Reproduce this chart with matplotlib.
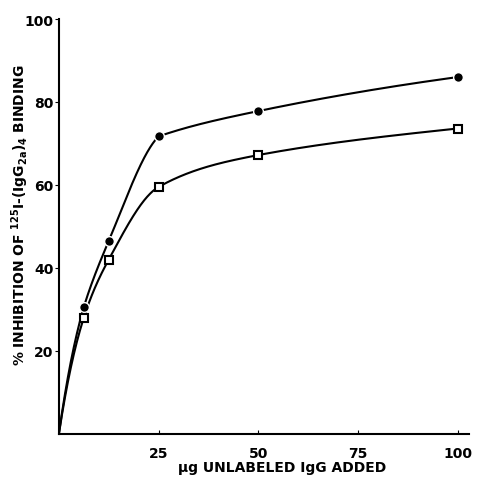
import matplotlib
matplotlib.use("Agg")
import matplotlib.pyplot as plt
import numpy as np

# data
dose = [6.25, 12.5, 25, 50, 100]
filled = [30.6, 46.5, 71.7, 77.8, 86.0]
opened = [28.0, 42.0, 59.5, 67.2, 73.6]


def smooth(x, y, xs):
    # hermite curve through the points; pieces kept roughly concave like the drawn curve
    x = np.asarray(x, float)
    y = np.asarray(y, float)
    h = np.diff(x)
    d = np.diff(y) / h
    m = np.zeros_like(y)
    for k in range(1, len(x) - 1):
        w1 = 2 * h[k] + h[k - 1]
        w2 = h[k] + 2 * h[k - 1]
        m[k] = (w1 + w2) / (w1 / d[k - 1] + w2 / d[k])
    m[0] = d[0] * 1.4
    m[-1] = d[-1] * 0.8
    m0 = m[:-1].copy()
    m1 = m[1:].copy()
    a = m0 - d
    b = d - m1
    m0 = np.where(a > 2 * b, d + 2 * b, m0)
    m1 = np.where(a < b / 4, d - 4 * a, m1)
    i = np.clip(np.searchsorted(x, xs) - 1, 0, len(x) - 2)
    t = (xs - x[i]) / h[i]
    h00 = 2 * t**3 - 3 * t**2 + 1
    h10 = t**3 - 2 * t**2 + t
    h01 = -2 * t**3 + 3 * t**2
    h11 = t**3 - t**2
    return h00 * y[i] + h10 * h[i] * m0[i] + h01 * y[i + 1] + h11 * h[i] * m1[i]


plt.rcParams['font.family'] = 'DejaVu Sans'
plt.rcParams['font.weight'] = 'bold'
plt.rcParams['mathtext.default'] = 'bf'

fig = plt.figure(figsize=(4.83, 4.85), dpi=100)
ax = fig.add_axes([0.122, 0.1037, 0.85, 0.855])

xs = np.linspace(0, 100, 800)
ax.plot(xs, smooth([0] + dose, [0] + filled, xs), color='black', lw=1.5)
ax.plot(xs, smooth([0] + dose, [0] + opened, xs), color='black', lw=1.5)
ax.plot(dose, filled, 'o', color='black', ms=7, mec='white', mew=1.0, zorder=3)
ax.plot(dose, opened, 's', mfc='white', mec='black', mew=1.5, ms=6, zorder=3)

ax.set_xlim(0, 103)
ax.set_ylim(0, 100)
ax.spines['top'].set_visible(False)
ax.spines['right'].set_visible(False)
ax.spines['left'].set_linewidth(1.5)
ax.spines['bottom'].set_linewidth(1.5)
ax.set_xticks([25, 50, 75, 100])
ax.set_yticks([20, 40, 60, 80, 100])
ax.tick_params(axis='x', direction='in', length=3, pad=9, labelsize=10)
ax.tick_params(axis='y', direction='out', length=3, pad=1, labelsize=10)

fig.text(0.584, 0.035, 'μg UNLABELED IgG ADDED', fontsize=10,
         fontweight='bold', ha='center', va='center')
fig.text(0.042, 0.557, r'% INHIBITION OF $^{125}$I-(IgG$_{2a}$)$_4$ BINDING',
         fontsize=10, fontweight='bold', rotation=90, ha='center', va='center')

plt.savefig('out.png', dpi=100)
plt.close()
